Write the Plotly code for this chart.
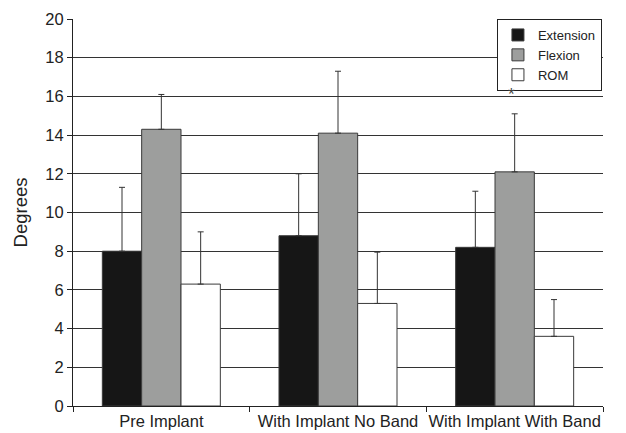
import plotly.graph_objects as go

categories = ["Pre Implant", "With Implant No Band", "With Implant With Band"]
extension = [8.0, 8.8, 8.2]
extension_err = [3.3, 3.2, 2.9]
flexion = [14.3, 14.1, 12.1]
flexion_err = [1.8, 3.2, 3.0]
rom = [6.3, 5.3, 3.6]
rom_err = [2.7, 2.65, 1.9]
y_ticks = [0, 2, 4, 6, 8, 10, 12, 14, 16, 18, 20]

FONT = "Liberation Sans, Arial, Helvetica, sans-serif"

def bar(name, vals, errs, color):
    return go.Bar(
        name=name, x=categories, y=vals,
        marker=dict(color=color, line=dict(color="#3a3a3a", width=1)),
        error_y=dict(type="data", symmetric=False, array=errs,
                     arrayminus=[0] * len(errs), color="#333333",
                     thickness=1, width=3),
    )

fig = go.Figure([
    bar("Extension", extension, extension_err, "#161616"),
    bar("Flexion", flexion, flexion_err, "#9d9e9d"),
    bar("ROM", rom, rom_err, "#ffffff"),
])

fig.add_annotation(x=categories[2], y=16.12, text="*", showarrow=False,
                   xshift=-3, font=dict(size=17, color="#444444", family=FONT))

fig.update_layout(
    width=618, height=425,
    margin=dict(l=65, r=23, t=11, b=27, autoexpand=False),
    paper_bgcolor="white", plot_bgcolor="white",
    barmode="group", bargap=0.332, bargroupgap=0,
    font=dict(family=FONT, size=16, color="#222222"),
    legend=dict(x=0.998, y=1.0, xanchor="right", yanchor="top",
                bordercolor="#222222", borderwidth=1, bgcolor="white",
                font=dict(size=13), itemwidth=30, tracegroupgap=0),
    xaxis=dict(showline=True, linecolor="#222222", linewidth=1,
               ticks="outside", tickson="boundaries", ticklen=5,
               tickcolor="#222222", showgrid=False, automargin=False,
               tickangle=0, tickfont=dict(size=16.5)),
    yaxis=dict(range=[0, 20], tickvals=y_ticks, showline=True,
               linecolor="#222222", linewidth=1, ticks="outside",
               ticklen=5, tickcolor="#222222", showgrid=True,
               gridcolor="#333333", gridwidth=1, zeroline=False,
               automargin=False, tickfont=dict(size=16.5),
               title=dict(text="Degrees", font=dict(size=18.5), standoff=12)),
)

fig.write_html("out.html")
